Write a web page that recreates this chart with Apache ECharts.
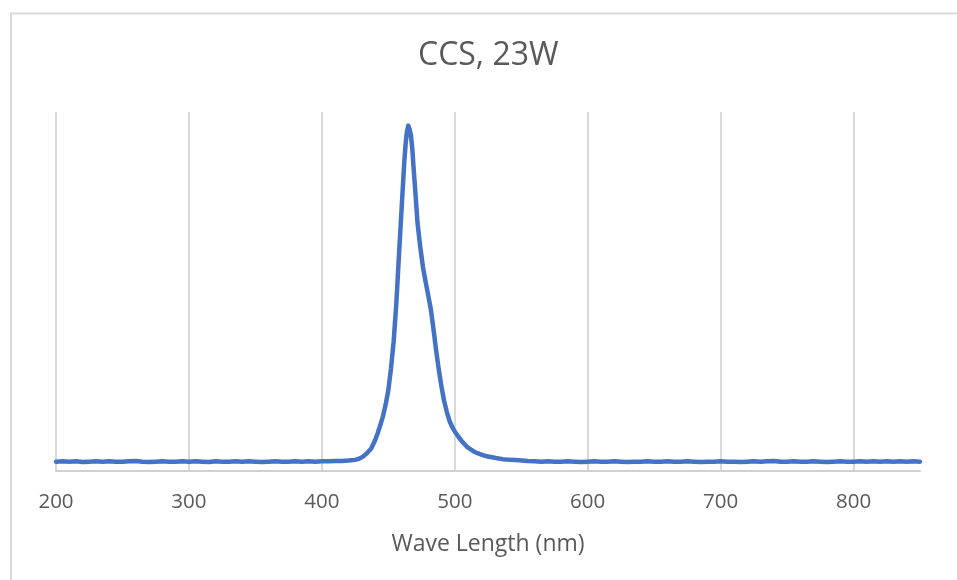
<!DOCTYPE html>
<html>
<head>
<meta charset="utf-8">
<title>CCS, 23W</title>
<script src="https://cdn.jsdelivr.net/npm/echarts@6/dist/echarts.min.js"></script>
<style>
  html, body { margin: 0; padding: 0; background: #ffffff; }
  #chart { width: 957px; height: 580px; }
</style>
</head>
<body>
<div id="chart"></div>
<script>
// Emission spectrum of the CCS 23W lamp (relative intensity vs wavelength, nm)
const wavelength = [
  200, 205, 210, 215, 220, 225, 230, 235, 240, 245,
  250, 255, 260, 265, 270, 275, 280, 285, 290, 295,
  300, 305, 310, 315, 320, 325, 330, 335, 340, 345,
  350, 355, 360, 365, 370, 375, 380, 385, 390, 395,
  400, 405, 410, 415, 420, 425, 428, 431, 434, 437,
  440, 442, 444, 446, 448, 450, 452, 454, 456, 458,
  460, 462, 463, 464, 465, 466, 467, 468, 469, 470,
  472, 474, 476, 478, 480, 482, 484, 486, 488, 490,
  492, 494, 496, 498, 500, 503, 506, 509, 512, 515,
  519, 523, 527, 531, 536, 542, 548, 555, 560, 565,
  570, 575, 580, 585, 590, 595, 600, 605, 610, 615,
  620, 625, 630, 635, 640, 645, 650, 655, 660, 665,
  670, 675, 680, 685, 690, 695, 700, 705, 710, 715,
  720, 725, 730, 735, 740, 745, 750, 755, 760, 765,
  770, 775, 780, 785, 790, 795, 800, 805, 810, 815,
  820, 825, 830, 835, 840, 845, 850
];

const intensity = [
  0.026, 0.027, 0.026, 0.027, 0.025, 0.026, 0.027, 0.026, 0.027, 0.026,
  0.026, 0.027, 0.028, 0.026, 0.025, 0.026, 0.027, 0.026, 0.026, 0.027,
  0.026, 0.027, 0.026, 0.025, 0.027, 0.026, 0.026, 0.027, 0.026, 0.027,
  0.026, 0.025, 0.026, 0.027, 0.026, 0.026, 0.027, 0.026, 0.027, 0.026,
  0.027, 0.027, 0.028, 0.028, 0.029, 0.031, 0.034, 0.040, 0.050, 0.062,
  0.085, 0.105, 0.128, 0.153, 0.185, 0.225, 0.285, 0.360, 0.465, 0.600,
  0.730, 0.860, 0.910, 0.945, 0.962, 0.952, 0.935, 0.900, 0.845, 0.795,
  0.690, 0.625, 0.570, 0.528, 0.490, 0.450, 0.395, 0.335, 0.282, 0.235,
  0.195, 0.165, 0.140, 0.123, 0.110, 0.094, 0.080, 0.068, 0.060, 0.053,
  0.047, 0.042, 0.039, 0.036, 0.033, 0.031, 0.030, 0.028, 0.027, 0.026,
  0.027, 0.026, 0.026, 0.027, 0.026, 0.025, 0.026, 0.027, 0.026, 0.026,
  0.027, 0.026, 0.025, 0.026, 0.026, 0.027, 0.026, 0.026, 0.027, 0.026,
  0.026, 0.027, 0.026, 0.025, 0.026, 0.026, 0.027, 0.026, 0.026, 0.025,
  0.026, 0.027, 0.026, 0.027, 0.028, 0.026, 0.026, 0.027, 0.026, 0.026,
  0.027, 0.026, 0.025, 0.026, 0.027, 0.026, 0.026, 0.027, 0.026, 0.027,
  0.026, 0.027, 0.026, 0.027, 0.026, 0.027, 0.026
];

const xMin = 200;
const xMax = 850;
const xStep = 100;

const chart = echarts.init(document.getElementById('chart'), null, { renderer: 'canvas' });

const points = wavelength.map((w, i) => [w, intensity[i]]);

chart.setOption({
  animation: false,
  backgroundColor: '#ffffff',
  textStyle: { fontFamily: 'Open Sans' },
  graphic: [{
    type: 'rect',
    silent: true,
    z: -10,
    shape: { x: 11, y: 13.5, width: 1000, height: 700 },
    style: { fill: 'none', stroke: '#D9D9D9', lineWidth: 2 }
  }],
  title: {
    text: 'CCS, 23W',
    left: 418,
    top: 40,
    padding: 0,
    textStyle: {
      fontFamily: 'Open Sans',
      fontSize: 32,
      fontWeight: 'normal',
      color: '#595959'
    }
  },
  grid: { left: 56, right: 37, top: 112, bottom: 109, containLabel: false },
  xAxis: {
    type: 'value',
    min: xMin,
    max: xMax,
    interval: xStep,
    name: 'Wave Length (nm)',
    nameLocation: 'middle',
    nameGap: 62,
    nameTextStyle: { fontFamily: 'Open Sans', fontSize: 23, color: '#595959' },
    axisLine: { show: true, lineStyle: { color: '#D0D0D0', width: 2 } },
    axisTick: { show: false },
    axisLabel: {
      margin: 21,
      fontFamily: 'Open Sans',
      fontSize: 20.5,
      color: '#595959',
      showMaxLabel: false
    },
    splitLine: {
      show: true,
      showMinLine: true,
      showMaxLine: false,
      lineStyle: { color: '#D9D9D9', width: 2 }
    }
  },
  yAxis: {
    type: 'value',
    min: 0,
    max: 1,
    show: false,
    splitLine: { show: false }
  },
  series: [{
    type: 'line',
    data: points,
    showSymbol: false,
    symbol: 'none',
    lineStyle: { color: '#4472C4', width: 4.5, join: 'round', cap: 'round' },
    z: 5
  }]
});
</script>
</body>
</html>
